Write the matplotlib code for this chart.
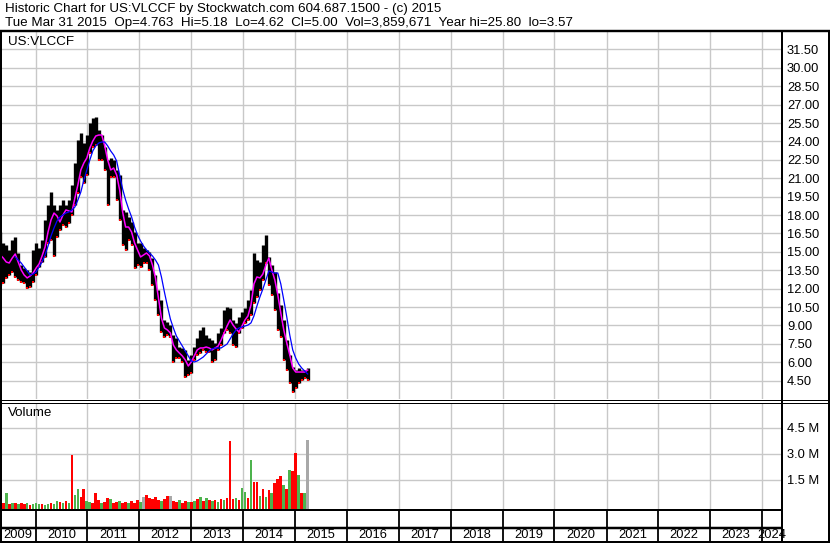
import matplotlib
matplotlib.use("Agg")
import matplotlib.pyplot as plt
import pandas as pd
from matplotlib.ticker import FuncFormatter

plt.rcParams["font.family"] = ["Liberation Sans", "DejaVu Sans"]

# --- data (one sample every 3 weeks) ---
dates = pd.date_range(end="2015-03-31", periods=104, freq="21D")

high = [16.61, 15.72, 15.55, 15.15, 15.96, 16.21, 14.90, 13.92, 13.68, 13.52,
        13.35, 15.15, 15.72, 15.31, 15.96, 17.59, 18.82, 19.88, 18.82, 18.41,
        18.82, 19.22, 18.82, 19.22, 20.45, 22.24, 24.11, 24.68, 23.87, 24.52,
        25.50, 25.91, 25.99, 24.93, 24.52, 23.54, 22.48, 22.65, 22.48, 21.67,
        21.26, 18.41, 18.25, 17.84, 17.43, 16.61, 15.72, 15.72, 15.31, 15.15,
        14.98, 14.49, 13.11, 11.89, 11.07, 9.44, 9.28, 9.03, 8.22, 7.97,
        7.24, 7.16, 7.00, 6.18, 6.59, 7.24, 7.97, 8.63, 8.87, 8.22,
        7.97, 7.81, 7.57, 8.38, 8.79, 10.26, 10.50, 10.42, 9.44, 9.20,
        9.69, 10.09, 10.42, 11.07, 11.89, 14.90, 14.33, 14.17, 15.55, 16.37,
        14.58, 13.92, 13.35, 11.64, 10.66, 9.44, 7.81, 6.59, 5.61, 5.36,
        5.53, 5.36, 5.36, 5.53]

low = [12.29, 12.46, 12.87, 13.11, 13.35, 12.95, 12.70, 12.54, 12.46, 12.05,
       12.13, 12.54, 13.11, 13.76, 14.17, 14.58, 15.72, 15.96, 14.66, 16.21,
       16.78, 17.19, 17.02, 17.35, 18.00, 18.82, 19.79, 21.10, 20.61, 21.26,
       23.05, 23.54, 23.71, 22.48, 22.48, 21.67, 18.82, 21.10, 21.10, 19.22,
       17.59, 15.55, 15.15, 15.96, 15.55, 13.68, 13.92, 13.76, 14.09, 14.09,
       13.52, 12.29, 11.07, 9.85, 8.46, 8.06, 8.22, 8.06, 6.02, 6.34,
       6.34, 6.02, 4.79, 4.96, 5.12, 6.18, 6.59, 6.75, 7.00, 6.83,
       6.83, 6.02, 6.18, 7.00, 7.40, 8.38, 8.63, 8.38, 7.40, 7.24,
       8.38, 8.79, 9.20, 9.44, 9.85, 10.83, 11.32, 11.89, 12.70, 14.09,
       12.29, 11.48, 10.26, 8.63, 8.06, 6.18, 5.36, 4.30, 3.57, 3.90,
       4.30, 4.55, 4.71, 4.55]

ma_short = [14.74, 14.49, 14.17, 14.09, 14.49, 14.82, 14.17, 13.52, 13.11, 12.87,
            13.03, 13.27, 13.68, 14.01, 14.66, 15.39, 16.61, 17.59, 18.16, 17.92,
            17.43, 18.00, 18.41, 18.33, 18.25, 19.39, 20.45, 21.67, 22.24, 22.65,
            23.46, 24.03, 24.44, 24.52, 24.52, 23.63, 22.48, 21.67, 21.83, 21.26,
            20.04, 18.25, 17.02, 17.02, 16.61, 15.72, 15.15, 14.58, 14.74, 14.90,
            14.66, 13.92, 12.87, 11.23, 9.60, 8.79, 8.63, 8.38, 7.40, 7.00,
            6.75, 6.51, 6.18, 5.69, 6.02, 6.51, 7.00, 7.16, 7.16, 7.24,
            7.16, 7.00, 7.16, 7.32, 7.81, 8.38, 8.95, 9.44, 9.03, 8.71,
            8.46, 8.95, 9.44, 9.77, 10.66, 12.38, 12.95, 12.87, 13.19, 13.92,
            14.49, 13.52, 12.70, 11.48, 10.01, 8.63, 7.57, 6.59, 5.53, 5.20,
            5.20, 5.20, 5.20, 5.36]

ma_long = [None, None, None, None, None, 14.58, 14.33, 14.09, 13.76, 13.44,
           13.11, 13.19, 13.35, 13.76, 14.17, 14.74, 15.47, 16.29, 16.94, 17.51,
           17.84, 18.00, 18.16, 18.25, 18.41, 18.65, 19.22, 19.88, 20.85, 21.67,
           22.48, 23.22, 23.63, 23.87, 23.95, 23.95, 23.63, 23.22, 22.89, 22.40,
           21.26, 20.12, 19.22, 18.49, 17.84, 17.02, 16.37, 15.88, 15.47, 15.15,
           14.90, 14.66, 14.33, 13.92, 12.95, 11.72, 10.58, 9.52, 8.79, 8.14,
           7.73, 7.32, 6.91, 6.51, 6.10, 6.02, 6.10, 6.26, 6.42, 6.67,
           6.91, 7.08, 7.16, 7.16, 7.16, 7.32, 7.48, 7.89, 8.30, 8.63,
           8.79, 8.87, 8.95, 9.03, 9.20, 9.77, 10.58, 11.32, 11.97, 12.70,
           13.44, 13.35, 13.27, 13.27, 12.38, 11.07, 9.69, 8.22, 7.00, 6.34,
           5.85, 5.53, 5.28, 5.04]

# volume in millions, direction: R = down, G = up, X = unchanged
volume = [0.25, 0.15, 0.77, 0.12, 0.15, 0.20, 0.10, 0.18, 0.10, 0.15,
          0.08, 0.12, 0.20, 0.10, 0.12, 0.08, 0.10, 0.20, 0.12, 0.30,
          0.22, 0.15, 0.30, 0.20, 2.94, 0.63, 0.98, 0.52, 0.98, 0.30,
          0.25, 0.15, 0.77, 0.35, 0.20, 0.25, 0.46, 0.40, 0.20, 0.25,
          0.30, 0.15, 0.25, 0.20, 0.30, 0.20, 0.35, 0.25, 0.50, 0.63,
          0.45, 0.40, 0.50, 0.35, 0.30, 0.40, 0.55, 0.60, 0.30, 0.25,
          0.35, 0.20, 0.30, 0.25, 0.25, 0.30, 0.40, 0.52, 0.30, 0.45,
          0.35, 0.30, 0.35, 0.25, 0.40, 0.35, 0.45, 3.75, 0.40, 0.45,
          0.35, 1.04, 0.80, 0.45, 2.65, 1.38, 1.38, 0.60, 1.00, 0.50,
          0.90, 0.75, 1.33, 1.56, 1.73, 1.20, 1.00, 2.08, 2.00, 3.06,
          1.79, 0.75, 0.75, 3.81]
vol_dir = ("RRGRGRGRRG" "RGGGRGGRGG" "RGRGRGGRRG" "GRRRGRRGRR" "GRRGRRRGXR"
           "RRRRGRRXRR" "GRRGRGRGRG" "RGRGRGRRRG" "RGGRGRRGRG" "RGRRRGRGRR" "GRGX")

price_ticks = [4.5, 6.0, 7.5, 9.0, 10.5, 12.0, 13.5, 15.0, 16.5, 18.0,
               19.5, 21.0, 22.5, 24.0, 25.5, 27.0, 28.5, 30.0, 31.5]
vol_ticks = [1.5, 3.0, 4.5]
years = list(range(2009, 2025))

header1 = "Historic Chart for US:VLCCF by Stockwatch.com 604.687.1500 - (c) 2015"
header2 = ("Tue Mar 31 2015  Op=4.763  Hi=5.18  Lo=4.62  Cl=5.00  "
           "Vol=3,859,671  Year hi=25.80  lo=3.57")

# --- layout ---
W, H = 830, 543
FS = 9.3
FS_HEAD = 9.6
GRID = "#c8c8c8"
GREEN = "#4db34d"
fig = plt.figure(figsize=(W / 100, H / 100), dpi=100)


def box(x0, y0, x1, y1):
    return [x0 / W, 1 - y1 / H, (x1 - x0) / W, (y1 - y0) / H]


ax = fig.add_axes(box(0, 31, 782, 399))
axv = fig.add_axes(box(0, 403, 782, 510), sharex=ax)
axy = fig.add_axes(box(0, 510, 782, 542), sharex=ax)

x0, x1 = pd.Timestamp("2009-04-26"), pd.Timestamp("2024-05-20")
bounds = [pd.Timestamp(f"{y}-01-01") for y in years[1:]]

for a in (ax, axv, axy):
    for s in a.spines.values():
        s.set_visible(False)
    a.set_xlim(x0, x1)
    a.set_xticks(bounds)
    a.tick_params(axis="x", length=0, labelbottom=False)

# price panel
ax.vlines(dates, low, high, color="black", lw=2.4, zorder=3)
ax.plot(dates, low, "s", color="red", ms=1.8, mew=0, zorder=4)
ax.plot(dates, ma_short, color="#ff00ff", lw=1.1, zorder=5)
ma_long_s = pd.Series(ma_long, index=dates, dtype=float)
ax.plot(dates, ma_long_s.values, color="#0000ff", lw=0.9, zorder=6)
ax.set_ylim(3, 33)
ax.set_yticks(price_ticks)
ax.yaxis.set_major_formatter(FuncFormatter(lambda v, p: f"{v:.2f}"))
ax.yaxis.tick_right()
ax.tick_params(axis="y", length=0, pad=3.6, labelsize=FS)
ax.grid(True, color=GRID, lw=1)
ax.set_axisbelow(True)

# volume panel
vfloor = -0.23
vcol = {"R": "red", "G": GREEN, "X": "#a8a8a8"}
axv.bar(dates, [v - vfloor for v in volume], bottom=vfloor, width=19,
        color=[vcol[c] for c in vol_dir], zorder=3)
axv.set_ylim(vfloor, 5.94)
axv.set_yticks(vol_ticks)
axv.yaxis.set_major_formatter(FuncFormatter(lambda v, p: f"{v:.1f} M"))
axv.yaxis.tick_right()
axv.tick_params(axis="y", length=0, pad=3.6, labelsize=FS)
axv.grid(True, color=GRID, lw=1)
axv.set_axisbelow(True)

# year strip
axy.set_ylim(0, 1)
axy.set_yticks([])
axy.vlines(bounds, 0, 1, color="black", lw=1.3)
edges = [x0] + bounds + [x1]
for y, a0, a1 in zip(years, edges[:-1], edges[1:]):
    axy.text(a0 + (a1 - a0) / 2, 7.5 / 32, str(y), ha="center", va="center",
             fontsize=FS, clip_on=False)

# frame and captions in pixel coordinates
ov = fig.add_axes([0, 0, 1, 1])
ov.set_xlim(0, W)
ov.set_ylim(H, 0)
ov.axis("off")
ov.patch.set_alpha(0)
k = 0.72
for xs, ys, lw in [
    ((0, W), (31, 31), 2.4),
    ((1, 1), (31, H), 2),
    ((782, 782), (31, H), 2),
    ((829, 829), (31, H), 2),
    ((0, W), (399.5, 399.5), 1),
    ((0, W), (402.5, 402.5), 1),
    ((0, 782), (510, 510), 2),
    ((0, 782), (527.5, 527.5), 2.5),
    ((0, W), (542, 542), 2),
]:
    ov.plot(xs, ys, color="black", lw=lw * k, solid_capstyle="butt")

ov.text(5, 9, header1, ha="left", va="center", fontsize=FS_HEAD)
ov.text(5, 23, header2, ha="left", va="center", fontsize=FS_HEAD)
ov.text(8, 42, "US:VLCCF", ha="left", va="center", fontsize=FS_HEAD)
ov.text(8, 413, "Volume", ha="left", va="center", fontsize=FS_HEAD)

fig.savefig("out.png", dpi=100)
